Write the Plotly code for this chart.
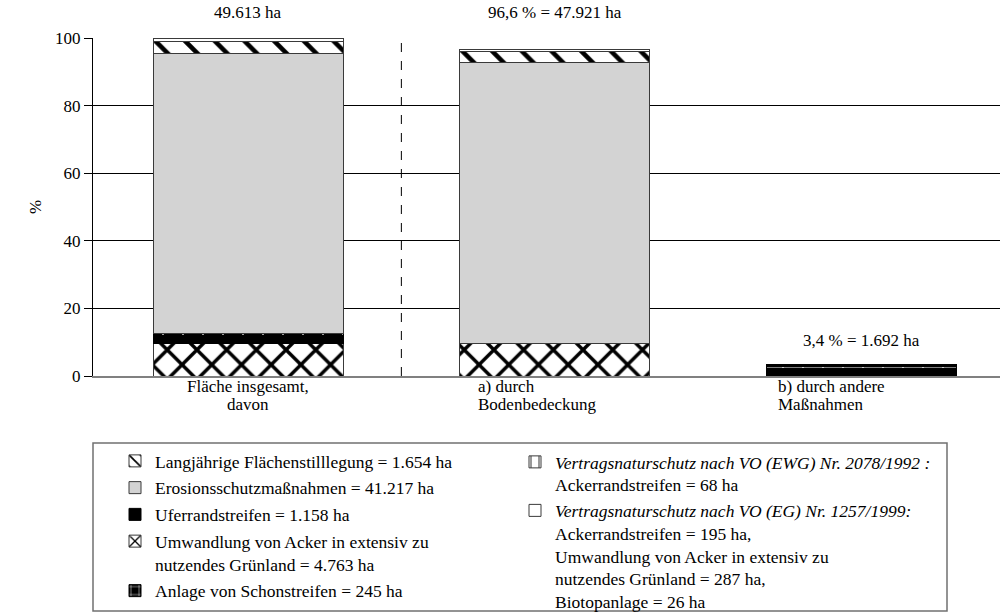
import plotly.graph_objects as go

# ---------------- data ----------------
categories = ["Fläche insgesamt,<br>davon", "a) durch<br>Bodenbedeckung", "b) durch andere<br>Maßnahmen"]
total_ha = 49613  # 100 %

# hectares per category (stack order bottom -> top)
umwandlung_ha = [4763, 4763, 0]
ufer_ha = [1158, 0, 1158]
schon_ha = [245, 0, 245]
erosion_ha = [41217, 41217, 0]
stilllegung_ha = [1654, 1654, 0]
ewg_ha = [68, 0, 68]
eg_ha = [508, 287, 221]

y_ticks = [0, 20, 40, 60, 80, 100]

legend_names = {
    "stilllegung": "Langjährige Flächenstilllegung = 1.654 ha",
    "erosion": "Erosionsschutzmaßnahmen = 41.217 ha",
    "ufer": "Uferrandstreifen = 1.158 ha",
    "umwandlung": "Umwandlung von Acker in extensiv zu<br>nutzendes Grünland = 4.763 ha",
    "schon": "Anlage von Schonstreifen = 245 ha",
    "ewg": "<i>Vertragsnaturschutz nach VO (EWG) Nr. 2078/1992 :</i><br>Ackerrandstreifen = 68 ha",
    "eg": "<i>Vertragsnaturschutz nach VO (EG) Nr. 1257/1999:</i><br>Ackerrandstreifen = 195 ha,<br>"
          "Umwandlung von Acker in extensiv zu<br>nutzendes Grünland = 287 ha,<br>Biotopanlage = 26 ha",
}

# ---------------- helpers ----------------
FONT = "Liberation Serif, Times New Roman, serif"
FS = 17
LFS = 17.5


def pct(vals):
    return [v / total_ha * 100 for v in vals]


def de_int(n):
    return f"{int(round(n)):,}".replace(",", ".")


def de_pct(p):
    return f"{p:.1f}".replace(".", ",")


x_pos = list(range(len(categories)))
BW = 0.62

fig = go.Figure()

series = [
    # key, values, marker color, pattern, legend, rank
    ("umwandlung", umwandlung_ha, "white", dict(shape="x", fgcolor="black", size=21, solidity=0.3), "legend", 4),
    ("ufer", ufer_ha, "black", None, "legend", 3),
    ("schon", schon_ha, "black", dict(shape="+", fgcolor="white", size=20, solidity=0.12), "legend", 5),
    ("erosion", erosion_ha, "#d3d3d3", None, "legend", 2),
    ("stilllegung", stilllegung_ha, "white", dict(shape="\\", fgcolor="black", size=21, solidity=0.22), "legend", 1),
    ("ewg", ewg_ha, "white", dict(shape="|", fgcolor="black", size=20, solidity=0.1), "legend2", 6),
    ("eg", eg_ha, "white", None, "legend2", 7),
]

# outline colour per bar: the small "andere Maßnahmen" bar is drawn fully dark
outline = ["#3a3a3a", "#3a3a3a", "black"]

for key, vals, color, pattern, leg, rank in series:
    marker = dict(color=color, line=dict(color=outline if color != "black" else "black", width=1))
    if pattern:
        marker["pattern"] = dict(fillmode="overlay", fgopacity=1, **pattern)
    fig.add_trace(go.Bar(
        x=x_pos, y=pct(vals), name=legend_names[key], width=BW,
        marker=marker, legend=leg, legendrank=rank, legendgroup=key,
        hoverinfo="skip",
    ))

# totals per bar
totals = [sum(s[1][i] for s in series) for i in range(len(categories))]
tot_pct = pct(totals)

labels = [
    f"{de_int(totals[0])} ha",
    f"{de_pct(tot_pct[1])} % = {de_int(totals[1])} ha",
    f"{de_pct(tot_pct[2])} % = {de_int(totals[2])} ha",
]
label_y = [100, 100, tot_pct[2]]
label_shift = [14, 14, 12]
for i in range(3):
    fig.add_annotation(x=x_pos[i], y=label_y[i], xref="x", yref="y", text=labels[i],
                       showarrow=False, yanchor="bottom", yshift=label_shift[i],
                       font=dict(family=FONT, size=FS, color="black"))

# category labels (one annotation per line, tight line spacing as in the original)
cat_anchor = ["center", "left", "left"]
cat_xshift = [0, -79, -85]
for i, cat in enumerate(categories):
    for j, line in enumerate(cat.split("<br>")):
        fig.add_annotation(x=x_pos[i], y=0, xref="x", yref="y", text=line, showarrow=False,
                           xanchor=cat_anchor[i], xshift=cat_xshift[i], yanchor="middle",
                           yshift=-(10 + 18.5 * j),
                           font=dict(family=FONT, size=FS, color="black"))

# y-axis title
fig.add_annotation(x=(35 - 93) / 907, y=0.5, xref="paper", yref="paper", text="%", textangle=-90,
                   showarrow=False, xanchor="center", yanchor="middle",
                   font=dict(family=FONT, size=FS, color="black"))

# dashed separator between total and its parts
fig.add_shape(type="line", xref="x", yref="paper", x0=0.5, x1=0.5, y0=0, y1=1,
              line=dict(color="black", width=1, dash="dash"))

# legend frame
fig.add_shape(type="rect", xref="paper", yref="paper",
              x0=0, x1=(947 - 93) / 907, y0=(376 - 443) / 338, y1=(376 - 611) / 338,
              line=dict(color="#707070", width=1.5), fillcolor="rgba(0,0,0,0)")

legend_common = dict(xref="container", yref="container", xanchor="left", yanchor="top",
                     bgcolor="rgba(0,0,0,0)", font=dict(family=FONT, size=LFS, color="black"),
                     valign="top", traceorder="grouped", itemclick=False,
                     itemdoubleclick=False)

fig.update_layout(
    width=1005, height=616,
    margin=dict(l=93, r=5, t=38, b=240, autoexpand=False),
    barmode="stack",
    plot_bgcolor="white", paper_bgcolor="white",
    font=dict(family=FONT, size=FS, color="black"),
    showlegend=True,
    legend=dict(x=115 / 1005, y=1 - 443 / 616, tracegroupgap=1, **legend_common),
    legend2=dict(x=515 / 1005, y=1 - 444 / 616, tracegroupgap=0, **legend_common),
    xaxis=dict(range=[-0.506, 2.453], tickvals=x_pos, showticklabels=False, showgrid=False,
               showline=True, linecolor="#808080", linewidth=2, ticks="", zeroline=False,
               automargin=False),
    yaxis=dict(range=[0, 100], tickvals=y_ticks, showgrid=True, gridcolor="black", gridwidth=1,
               showline=True, linecolor="black", linewidth=1, ticks="outside", ticklen=8,
               tickcolor="black", zeroline=False, automargin=False,
               tickfont=dict(family=FONT, size=FS, color="black")),
)

fig.write_html("out.html", config={"displayModeBar": False},
               post_script="document.body.style.margin='0';")
